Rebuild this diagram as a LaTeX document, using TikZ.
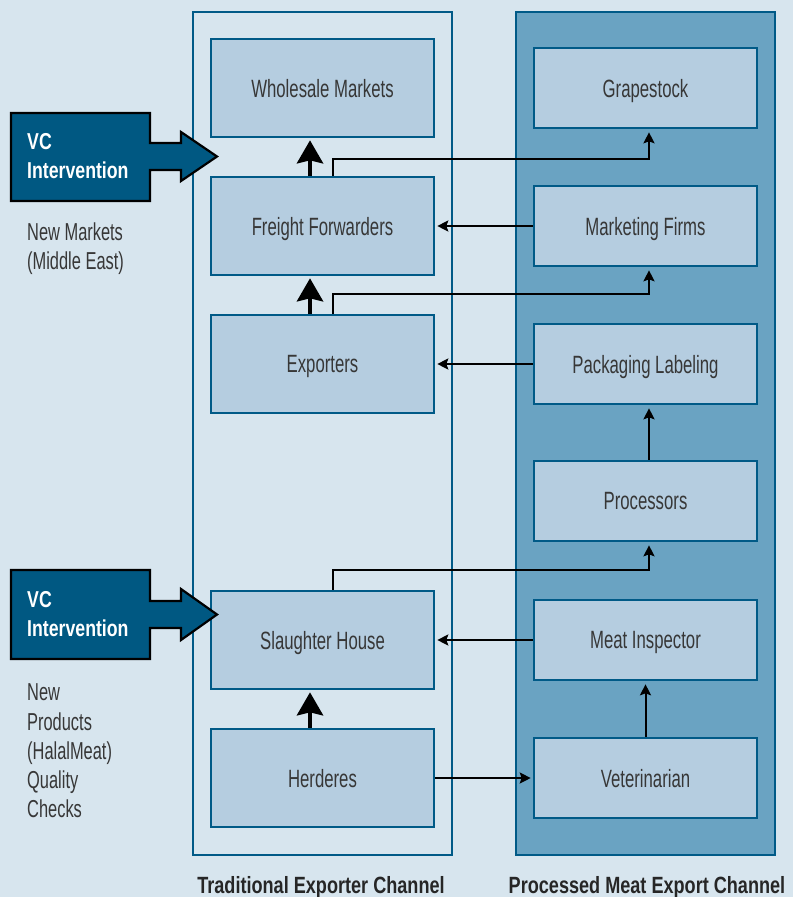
\documentclass[tikz,border=0pt]{standalone}
\usepackage{fontspec}
\setmainfont{Liberation Sans}
\newfontfamily\condlight{Liberation Sans}[FakeStretch=0.67]
\newfontfamily\condbold{Liberation Sans}[FakeStretch=0.77]
\usetikzlibrary{arrows.meta}
\definecolor{bgc}{RGB}{215,229,238}
\definecolor{boxc}{RGB}{181,205,224}
\definecolor{rightc}{RGB}{106,163,194}
\definecolor{darkb}{RGB}{0,90,135}
\definecolor{vcc}{RGB}{0,88,130}
\definecolor{txt}{RGB}{55,55,55}
\tikzset{
  chan/.style={draw=darkb, line width=2pt, minimum width=259pt, minimum height=843pt, inner sep=0pt},
  lbox/.style={draw=darkb, fill=boxc, line width=2.6pt, minimum width=223pt, minimum height=98pt, inner sep=0pt,
    text depth=0pt, font=\condlight\fontsize{25}{28}\selectfont, text=txt},
  rbox/.style={lbox, minimum height=80pt},
  thickarrow/.style={line width=4.5pt, -{Stealth[length=23pt,width=26pt,inset=3pt]}},
  thinarrow/.style={line width=2pt, -{Stealth[length=11pt,width=11pt,inset=2pt]}},
  sidetext/.style={anchor=west, align=left, inner sep=0pt, font=\condlight\fontsize{24.5}{29.3}\selectfont, text=txt},
  vctext/.style={anchor=west, align=left, inner sep=0pt, font=\condbold\bfseries\fontsize{23}{29}\selectfont, text=white},
  vcshape/.style={fill=vcc, draw=black, line width=2.2pt, line join=miter},
  chanlabel/.style={anchor=base, inner sep=0pt, font=\condbold\bfseries\fontsize{23.5}{26}\selectfont, text=black!85}
}
\begin{document}
\begin{tikzpicture}[x=1pt,y=-1pt]
\useasboundingbox (0,0) rectangle (793,897);
\fill[bgc] (0,0) rectangle (793,897);
% channels
\node[chan, fill=bgc] (lc) at (322.5,433.5) {};
\node[chan, fill=rightc] (rc) at (645.5,433.5) {};
% left boxes
\node[lbox] (wm) at (322.5,88) {Wholesale Markets};
\node[lbox] (fr) at (322.5,226) {Freight Forwarders};
\node[lbox] (ex) at (322.5,364) {Exporters};
\node[lbox] (sh) at (322.5,640) {Slaughter House};
\node[lbox] (hd) at (322.5,778) {Herderes};
% right boxes
\node[rbox] (gs) at (645.5,88) {Grapestock};
\node[rbox] (mf) at (645.5,226) {Marketing Firms};
\node[rbox] (pl) at (645.5,364) {Packaging Labeling};
\node[rbox] (pr) at (645.5,501) {Processors};
\node[rbox] (mi) at (645.5,640) {Meat Inspector};
\node[rbox] (vt) at (645.5,778) {Veterinarian};
% thick arrows
\draw[thickarrow] ([xshift=-12.5pt]fr.north) -- ([xshift=-12.5pt,yshift=-2pt]wm.south);
\draw[thickarrow] ([xshift=-12.5pt]ex.north) -- ([xshift=-12.5pt,yshift=-2pt]fr.south);
\draw[thickarrow] ([xshift=-12.5pt]hd.north) -- ([xshift=-12.5pt,yshift=-2pt]sh.south);
% elbow arrows
\draw[thinarrow] ([xshift=10.5pt]fr.north) -- ++(0,-17) -| ([xshift=3.5pt,yshift=-3pt]gs.south);
\draw[thinarrow] ([xshift=10.5pt]ex.north) -- ++(0,-20) -| ([xshift=3.5pt,yshift=-3pt]mf.south);
\draw[thinarrow] ([xshift=10.5pt]sh.north) -- ++(0,-20) -| ([xshift=3.5pt,yshift=-3pt]pr.south);
% horizontal arrows
\draw[thinarrow] (mf.west) -- ([xshift=2pt]fr.east);
\draw[thinarrow] (pl.west) -- ([xshift=2pt]ex.east);
\draw[thinarrow] (mi.west) -- ([xshift=2pt]sh.east);
\draw[thinarrow] (hd.east) -- ([xshift=-2pt]vt.west);
% vertical arrows right
\draw[thinarrow] ([xshift=3.5pt]pr.north) -- ([xshift=3.5pt,yshift=-3pt]pl.south);
\draw[thinarrow] (vt.north) -- ([yshift=-3pt]mi.south);
% VC intervention shapes
\draw[vcshape] (11,113) -- (150,113) -- (150,143) -- (181,143) -- (181,132) -- (217,156.5) -- (181,181) -- (181,170) -- (150,170) -- (150,201) -- (11,201) -- cycle;
\node[vctext] (vc1) at (27,156) {VC\\Intervention};
\draw[vcshape] (11,570) -- (150,570) -- (150,601) -- (181,601) -- (181,589) -- (217,614.5) -- (181,640) -- (181,628) -- (150,628) -- (150,659) -- (11,659) -- cycle;
\node[vctext] (vc2) at (27,614) {VC\\Intervention};
% side texts
\node[sidetext] (s1) at (27,249) {New Markets\\(Middle East)};
\node[sidetext] (s2) at (27,751) {New\\Products\\(HalalMeat)\\Quality\\Checks};
% channel labels
\node[chanlabel] (l1) at (321,893) {Traditional Exporter Channel};
\node[chanlabel] (l2) at (647,893) {Processed Meat Export Channel};
\end{tikzpicture}
\end{document}
